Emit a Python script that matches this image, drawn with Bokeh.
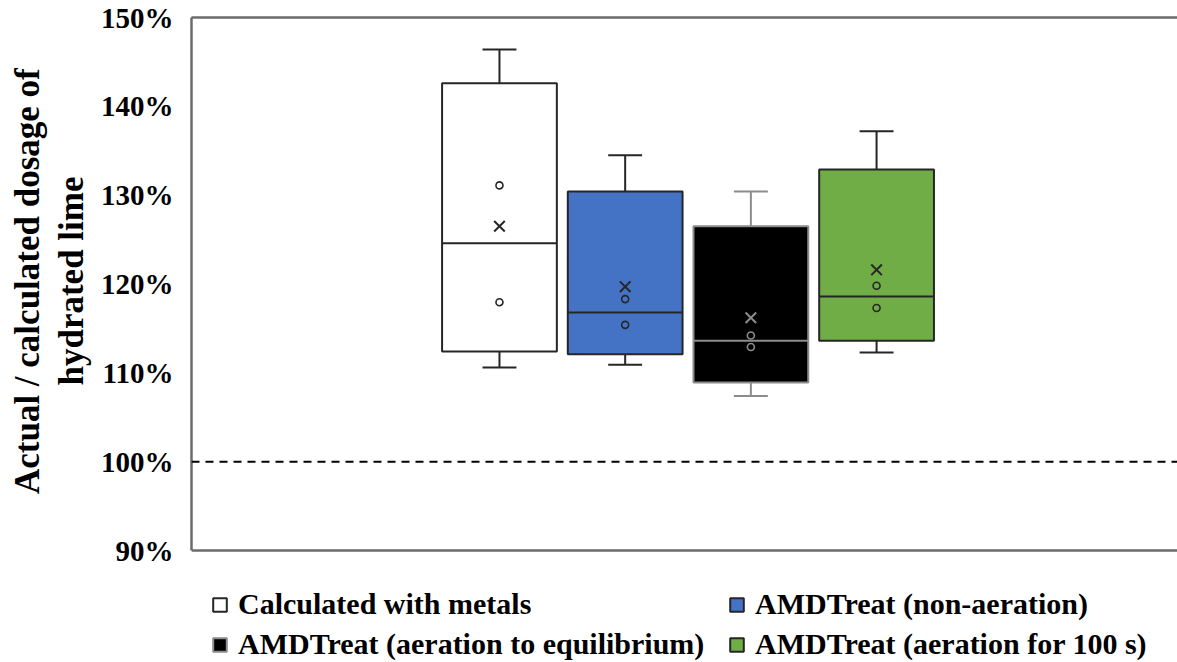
from bokeh.plotting import figure
from bokeh.models import (Range1d, FixedTicker, LinearAxis, Span, Legend, LegendItem,
                          ColumnDataSource, PrintfTickFormatter, Title)
from bokeh.embed import file_html
from bokeh.resources import INLINE

# ---- data (percent of calculated dosage) ----
categories = ["Calculated with metals", "AMDTreat (non-aeration)",
              "AMDTreat (aeration to equilibrium)", "AMDTreat (aeration for 100 s)"]
lower_whisker = [110.6, 110.9, 107.4, 112.3]
q1 = [112.4, 112.1, 108.9, 113.6]
median = [124.6, 116.8, 113.6, 118.6]
q3 = [142.6, 130.4, 126.5, 132.9]
upper_whisker = [146.4, 134.5, 130.4, 137.2]
means = [126.5, 119.7, 116.2, 121.6]
inner_point_a = [131.1, 118.3, 114.2, 119.8]
inner_point_b = [117.95, 115.4, 112.9, 117.3]
reference_level = 100
axis_min, axis_max = 90, 150
y_ticks = [90, 100, 110, 120, 130, 140, 150]
y_title_lines = ["Actual  / calculated dosage of", "hydrated lime"]

fill_colors = ["#FFFFFF", "#4472C4", "#000000", "#70AD47"]
line_colors = ["#262626", "#262626", "#8C8C8C", "#262626"]

BOX_W = 0.913
CAP_HW = 0.135
FONT = "Liberation Serif"

xs = [i + 1 for i in range(len(categories))]
src = ColumnDataSource(dict(
    x=xs, lo=lower_whisker, q1=q1, med=median, q3=q3, hi=upper_whisker,
    mean=means, pa=inner_point_a, pb=inner_point_b,
    fill=fill_colors, line=line_colors,
    bl=[x - BOX_W / 2 for x in xs], br=[x + BOX_W / 2 for x in xs],
    cl=[x - CAP_HW for x in xs], cr=[x + CAP_HW for x in xs],
))

# frame extends below the value axis so the legend sits inside it
px_per_unit = 533 / (axis_max - axis_min)
y_start = axis_min - 112 / px_per_unit

p = figure(width=1177, height=662, output_backend="svg", toolbar_location=None,
           x_range=Range1d(-1.450, 6.394), y_range=Range1d(y_start, axis_max),
           min_border_left=191, min_border_right=0, min_border_top=17, min_border_bottom=0)
p.outline_line_color = None
p.xgrid.visible = False
p.ygrid.visible = False
p.background_fill_color = "white"
p.border_fill_color = "white"
p.xaxis.visible = False

AX_COLOR = "#6b6b6b"
# y axis
ya = p.yaxis[0]
ya.bounds = (axis_min, axis_max)
ya.ticker = FixedTicker(ticks=y_ticks)
ya.formatter = PrintfTickFormatter(format="%d%%")
ya.major_tick_line_color = None
ya.minor_tick_line_color = None
ya.axis_line_color = AX_COLOR
ya.axis_line_width = 2.5
ya.major_label_text_font = FONT
ya.major_label_text_font_style = "bold"
ya.major_label_text_font_size = "29px"
ya.major_label_text_color = "black"
ya.major_label_standoff = 12

# axis title (two lines, centred on the 90-150 % span)
p.add_layout(Title(text=y_title_lines[1], align="right", offset=159, standoff=10,
                   vertical_align="top", text_font=FONT, text_font_style="bold",
                   text_font_size="35px", text_color="black"), "left")
p.add_layout(Title(text=y_title_lines[0], align="right", offset=42, standoff=0,
                   vertical_align="bottom", text_font=FONT, text_font_style="bold",
                   text_font_size="35px", text_color="black"), "left")

# top line
top = LinearAxis(ticker=FixedTicker(ticks=[]), major_tick_line_color=None,
                 minor_tick_line_color=None, major_label_text_font_size="0px",
                 axis_line_color=AX_COLOR, axis_line_width=2.5)
p.add_layout(top, "above")

# bottom line of the value axis
p.add_layout(Span(location=axis_min, dimension="width", line_color=AX_COLOR, line_width=2.5))

# reference line
p.add_layout(Span(location=reference_level, dimension="width", line_color="black",
                  line_width=2, line_dash="8 6"))

# whiskers
p.segment(x0="x", y0="q3", x1="x", y1="hi", source=src, line_color="line", line_width=2)
p.segment(x0="x", y0="q1", x1="x", y1="lo", source=src, line_color="line", line_width=2)
p.segment(x0="cl", y0="hi", x1="cr", y1="hi", source=src, line_color="line", line_width=2)
p.segment(x0="cl", y0="lo", x1="cr", y1="lo", source=src, line_color="line", line_width=2)
# boxes
boxes = p.vbar(x="x", width=BOX_W, top="q3", bottom="q1", source=src,
               fill_color="fill", line_color="line", line_width=2)
# medians
p.segment(x0="bl", y0="med", x1="br", y1="med", source=src, line_color="line", line_width=2)
# means
p.scatter(x="x", y="mean", source=src, marker="x", size=15, line_color="line", line_width=2)
# inner points
p.scatter(x="x", y="pa", source=src, marker="circle", size=7, fill_alpha=0,
          line_color="line", line_width=1.6)
p.scatter(x="x", y="pb", source=src, marker="circle", size=7, fill_alpha=0,
          line_color="line", line_width=1.6)

def make_legend(idx, xoff):
    items = [LegendItem(label=categories[i], renderers=[boxes], index=i) for i in idx]
    lg = Legend(items=items, location=(xoff, 1), orientation="vertical",
                glyph_width=17, glyph_height=17, label_standoff=10,
                label_text_font=FONT, label_text_font_style="bold",
                label_text_font_size="30px", label_text_color="black",
                label_height=30, spacing=6, padding=0, margin=0,
                border_line_color=None, background_fill_alpha=0)
    p.add_layout(lg, "center")

make_legend([0, 2], 20)
make_legend([1, 3], 537)

open("out.html", "w").write(file_html(p, INLINE))
